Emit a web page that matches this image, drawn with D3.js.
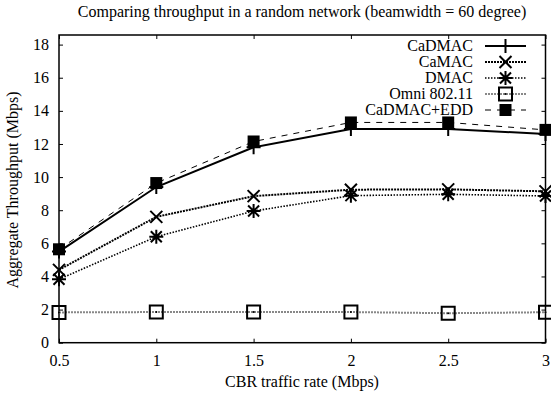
<!DOCTYPE html>
<html>
<head>
<meta charset="utf-8">
<script src="https://cdn.jsdelivr.net/npm/d3@7"></script>
<style>
  body { margin: 0; background: #fff; }
  svg { display: block; }
  text { font-family: "Liberation Serif", "DejaVu Serif", serif; fill: #000; }
</style>
</head>
<body>
<svg id="chart"></svg>
<script>
const width = 551, height = 395

const rates = [0.5, 1, 1.5, 2, 2.5, 3]
const cadmac = [5.5, 9.4, 11.8, 12.9, 12.9, 12.6]
const camac = [4.4, 7.6, 8.85, 9.24, 9.26, 9.14]
const dmac = [3.83, 6.4, 7.95, 8.88, 8.96, 8.86]
const omni = [1.83, 1.85, 1.85, 1.85, 1.78, 1.84]
const cadmacEdd = [5.64, 9.64, 12.15, 13.3, 13.3, 12.85]

const xTicks = [0.5, 1, 1.5, 2, 2.5, 3]
const yTicks = [0, 2, 4, 6, 8, 10, 12, 14, 16, 18]

const series = [
  { name: 'CaDMAC', values: cadmac, color: '#000', width: 2, dash: null, marker: 'plus' },
  { name: 'CaMAC', values: camac, color: '#000', width: 2, dash: '2,1', marker: 'cross' },
  { name: 'DMAC', values: dmac, color: '#000', width: 1.6, dash: '1.5,1.5', marker: 'star' },
  { name: 'Omni 802.11', values: omni, color: '#888', width: 2, dash: '2,1', marker: 'box' },
  { name: 'CaDMAC+EDD', values: cadmacEdd, color: '#000', width: 1, dash: '6,6', marker: 'fbox' }
]

const plotL = 59, plotR = 545.5, plotT = 35, plotB = 342.7

const svg = d3.select('#chart').attr('width', width).attr('height', height)

const x = d3.scaleLinear().domain([0.5, 3]).range([plotL, plotR])
const y = d3.scaleLinear().domain([0, 18.58]).range([plotB, plotT])

// axes with inward ticks
const tl = 4
svg.append('g').attr('transform', `translate(0,${plotB})`)
  .call(d3.axisBottom(x).tickValues(xTicks).tickFormat(d3.format('')).tickSize(-tl).tickPadding(12))
svg.append('g').attr('transform', `translate(0,${plotT})`)
  .call(d3.axisTop(x).tickValues(xTicks).tickFormat('').tickSize(-tl))
svg.append('g').attr('transform', `translate(${plotL},0)`)
  .call(d3.axisLeft(y).tickValues(yTicks).tickSize(-tl).tickPadding(10))
svg.append('g').attr('transform', `translate(${plotR},0)`)
  .call(d3.axisRight(y).tickValues(yTicks).tickFormat('').tickSize(-tl))

svg.selectAll('.domain').remove()
svg.selectAll('.tick line').attr('stroke', '#000').attr('stroke-width', 1)
svg.selectAll('.tick text').attr('font-size', 16)

svg.append('rect')
  .attr('x', plotL).attr('y', plotT)
  .attr('width', plotR - plotL).attr('height', plotB - plotT)
  .attr('fill', 'none').attr('stroke', '#000').attr('stroke-width', 1.5)

// titles
svg.append('text').attr('x', 302).attr('y', 17).attr('text-anchor', 'middle')
  .attr('font-size', 16).text('Comparing throughput in a random network (beamwidth = 60 degree)')
svg.append('text').attr('x', 302).attr('y', 387).attr('text-anchor', 'middle')
  .attr('font-size', 16).text('CBR traffic rate (Mbps)')
svg.append('text').attr('transform', 'translate(18,190) rotate(-90)').attr('text-anchor', 'middle')
  .attr('font-size', 16).text('Aggregate Throughput (Mbps)')

const markerPath = (type, cx, cy) => {
  const s = 7
  if (type === 'plus') return `M${cx - s},${cy}H${cx + s}M${cx},${cy - s}V${cy + s}`
  if (type === 'cross') return `M${cx - 6},${cy - 6}L${cx + 6},${cy + 6}M${cx - 6},${cy + 6}L${cx + 6},${cy - 6}`
  if (type === 'star') return `M${cx - s},${cy}H${cx + s}M${cx},${cy - s}V${cy + s}` +
    `M${cx - 5.5},${cy - 5.5}L${cx + 5.5},${cy + 5.5}M${cx - 5.5},${cy + 5.5}L${cx + 5.5},${cy - 5.5}`
  if (type === 'box') return `M${cx - 6.5},${cy - 6.5}h13v13h-13Z`
  if (type === 'fbox') return `M${cx - 6},${cy - 6}h12v12h-12Z`
}

const drawMarker = (g, type, cx, cy) => {
  g.append('path').attr('d', markerPath(type, cx, cy))
    .attr('fill', type === 'fbox' ? '#000' : 'none')
    .attr('stroke', '#000')
    .attr('stroke-width', type === 'fbox' ? 0 : 2)
}

const line = d3.line().x(d => x(d[0])).y(d => y(d[1]))

series.forEach((s, i) => {
  const g = svg.append('g')
  const pts = rates.map((r, j) => [r, s.values[j]])
  g.append('path').attr('d', line(pts))
    .attr('fill', 'none').attr('stroke', s.color)
    .attr('stroke-width', s.width).attr('stroke-dasharray', s.dash)
  pts.forEach(p => drawMarker(g, s.marker, x(p[0]), y(p[1])))
  if (s.marker === 'box') pts.forEach(p => g.append('circle').attr('cx', x(p[0])).attr('cy', y(p[1])).attr('r', 1).attr('fill', '#000'))

  // legend entry
  const ly = 46 + i * 16
  svg.append('text').attr('x', 473).attr('y', ly + 5).attr('text-anchor', 'end')
    .attr('font-size', 16).text(s.name)
  svg.append('line').attr('x1', 485).attr('x2', 526).attr('y1', ly).attr('y2', ly)
    .attr('stroke', s.color).attr('stroke-width', s.width).attr('stroke-dasharray', s.dash)
  drawMarker(svg, s.marker, 505.5, ly)
  if (s.marker === 'box') svg.append('circle').attr('cx', 505.5).attr('cy', ly).attr('r', 1).attr('fill', '#000')
})
</script>
</body>
</html>
